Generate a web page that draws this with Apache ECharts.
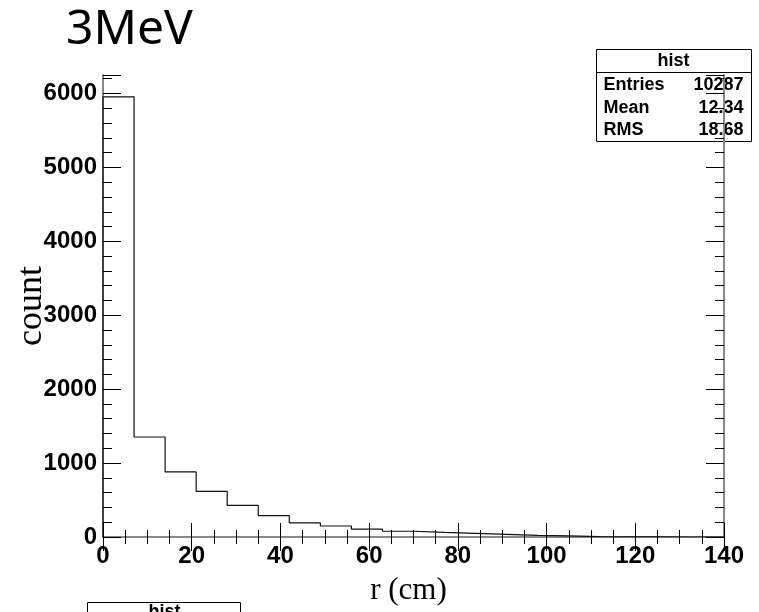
<!DOCTYPE html>
<html>
<head>
<meta charset="utf-8">
<script src="https://cdn.jsdelivr.net/npm/echarts@6/dist/echarts.min.js"></script>
<style>
  html, body { margin: 0; padding: 0; background: #fff; }
  #chart { width: 759px; height: 612px; }
</style>
</head>
<body>
<div id="chart"></div>
<script>
// histogram "hist": r (cm), 20 bins of 7 cm
const binEdges = [0, 7, 14, 21, 28, 35, 42, 49, 56, 63, 70, 77, 84, 91, 98, 105, 112, 119, 126, 133, 140];
const counts = [5955, 1353, 880, 616, 427, 290, 190, 149, 106, 78, 63, 50, 36, 23, 14, 5, 3, 2, 0, 0];
const statNames = ["Entries", "Mean", "RMS"];
const statValues = ["10287", "12.34", "18.68"];
const xMax = 140;
const yMax = 6250;

const myChart = echarts.init(document.getElementById("chart"));

// outline of the histogram: left edge of each bin + closing point
const stepData = [[binEdges[0], 0]];
counts.forEach(function (c, i) {
  stepData.push([binEdges[i], c]);
});
stepData.push([binEdges[binEdges.length - 1], 0]);

const frameLine = { show: true, lineStyle: { color: "#888", width: 2 } };
const tickFont = { fontFamily: "Liberation Sans", fontWeight: "bold", fontSize: 24, color: "#000" };

function xAx(pos, labels) {
  return {
    type: "value", position: pos, min: 0, max: xMax, interval: 20,
    axisLine: frameLine,
    axisTick: { show: true, inside: true, length: 14, lineStyle: { color: "#000", width: 1 } },
    minorTick: { show: true, splitNumber: 4, length: 7, lineStyle: { color: "#000", width: 1 } },
    axisLabel: labels ? Object.assign({ show: true, margin: 7 }, tickFont) : { show: false },
    splitLine: { show: false },
    name: labels ? "r (cm)" : "",
    nameLocation: "middle",
    nameGap: 38,
    nameMoveOverlap: false,
    nameTextStyle: { fontFamily: "Liberation Serif", fontSize: 31, color: "#000", padding: [0, 10, 0, 0] },
  };
}

function yAx(pos, step, len, labels) {
  return {
    type: "value", position: pos, min: 0, max: yMax, interval: step,
    axisLine: step === 200 ? frameLine : { show: false },
    axisTick: { show: true, inside: true, length: len, lineStyle: { color: "#000", width: 1 } },
    axisLabel: labels ? Object.assign({
      show: true, margin: 6,
      formatter: function (v) { return v % 1000 === 0 ? String(v) : ""; },
    }, tickFont) : { show: false },
    splitLine: { show: false },
    name: labels ? "count" : "",
    nameLocation: "middle",
    nameRotate: 90,
    nameGap: 53,
    nameMoveOverlap: false,
    nameTextStyle: { fontFamily: "Liberation Serif", fontSize: 36, color: "#000" },
  };
}

var option = {
  animation: false,
  backgroundColor: "#fff",
  grid: { left: 103, top: 75, right: 35, bottom: 75, containLabel: false, outerBoundsMode: "none" },
  xAxis: [xAx("bottom", true), xAx("top", false)],
  yAxis: [
    yAx("left", 200, 9, true),
    yAx("left", 1000, 18, false),
    yAx("right", 200, 9, false),
    yAx("right", 1000, 18, false),
  ],
  series: [
    {
      name: "hist",
      type: "line",
      step: "end",
      showSymbol: false,
      data: stepData,
      lineStyle: { color: "#111", width: 1.2 },
      z: 3,
    },
  ],
  graphic: [
    {
      type: "text", left: 66, top: 6, z: 10,
      style: { text: "3MeV", fontFamily: "Noto Sans", fontSize: 48, fill: "#000" },
    },
    // stats box
    {
      type: "group", left: 594, top: 49, z: 10,
      children: [
        { type: "rect", shape: { x: 0, y: 0, width: 155, height: 92 }, style: { fill: "#fff", stroke: "#000", lineWidth: 1 } },
        { type: "line", shape: { x1: 0, y1: 23, x2: 155, y2: 23 }, style: { stroke: "#000", lineWidth: 1 } },
        { type: "text", x: 77, y: 12, style: { text: "hist", align: "center", verticalAlign: "middle", fontFamily: "Liberation Sans", fontWeight: "bold", fontSize: 18, fill: "#000" } },
      ].concat(statNames.map(function (n, i) {
        return { type: "text", x: 7, y: 36 + i * 22.5, style: { text: n, verticalAlign: "middle", fontFamily: "Liberation Sans", fontWeight: "bold", fontSize: 18, fill: "#000" } };
      })).concat(statValues.map(function (v, i) {
        return { type: "text", x: 147, y: 36 + i * 22.5, style: { text: v, align: "right", verticalAlign: "middle", fontFamily: "Liberation Sans", fontWeight: "bold", fontSize: 18, fill: "#000" } };
      })),
    },
    // second stats box, cut off at the bottom
    {
      type: "group", left: 87, top: 602, z: 10,
      children: [
        { type: "rect", shape: { x: 0, y: 0, width: 153, height: 30 }, style: { fill: "#fff", stroke: "#000", lineWidth: 1 } },
        { type: "text", x: 77, y: 1, style: { text: "hist", align: "center", verticalAlign: "top", fontFamily: "Liberation Sans", fontWeight: "bold", fontSize: 18, fill: "#000" } },
      ],
    },
  ],
};
option && myChart.setOption(option);
</script>
</body>
</html>
